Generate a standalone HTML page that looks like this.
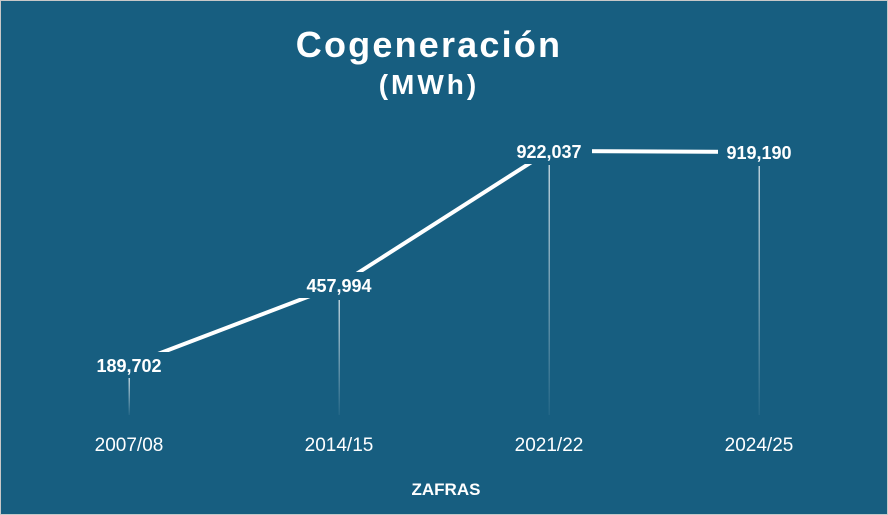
<!DOCTYPE html><html><head><style>
body{margin:0;width:888px;height:515px;overflow:hidden;background:#175e80;font-family:"Liberation Sans","DejaVu Sans",sans-serif}
.f{position:absolute;left:0;top:0;width:886px;height:513px;border:1px solid #c8c8c8;background:#175e80}
</style></head><body><div class="f"></div>
<svg width="888" height="515" style="position:absolute;left:0;top:0">
<defs><linearGradient id="g" x1="0" y1="0" x2="0" y2="1"><stop offset="0" stop-color="#fff" stop-opacity="0.7"/><stop offset="1" stop-color="#fff" stop-opacity="0.05"/></linearGradient></defs>
<text x="429" y="57" text-anchor="middle" fill="#fff" font-size="36" font-weight="bold" letter-spacing="2.2">Cogeneración</text>
<text x="429" y="94" text-anchor="middle" fill="#fff" font-size="28" font-weight="bold" letter-spacing="3">(MWh)</text>
<rect x="128.5" y="378" width="1.5" height="37" fill="url(#g)"/>
<rect x="338.5" y="300" width="1.5" height="115" fill="url(#g)"/>
<rect x="548.5" y="165" width="1.5" height="250" fill="url(#g)"/>
<rect x="758.5" y="166" width="1.5" height="249" fill="url(#g)"/>
<polyline points="129,365 339,285 549,151 759,152" fill="none" stroke="#fff" stroke-width="4"/>
<g fill="#175e80"><rect x="88" y="352" width="82" height="26"/><rect x="298" y="272" width="82" height="26"/><rect x="508" y="138" width="84" height="26"/><rect x="718" y="139" width="84" height="26"/></g>
<g fill="#fff" font-size="18" font-weight="bold" text-anchor="middle">
<text x="129" y="372">189,702</text><text x="339" y="292">457,994</text><text x="549" y="158">922,037</text><text x="759" y="159">919,190</text></g>
<g fill="#fff" font-size="19" text-anchor="middle">
<text x="129" y="451">2007/08</text><text x="339" y="451">2014/15</text><text x="549" y="451">2021/22</text><text x="759" y="451">2024/25</text></g>
<text x="446" y="495" text-anchor="middle" fill="#fff" font-size="17" font-weight="bold">ZAFRAS</text>
</svg></body></html>
